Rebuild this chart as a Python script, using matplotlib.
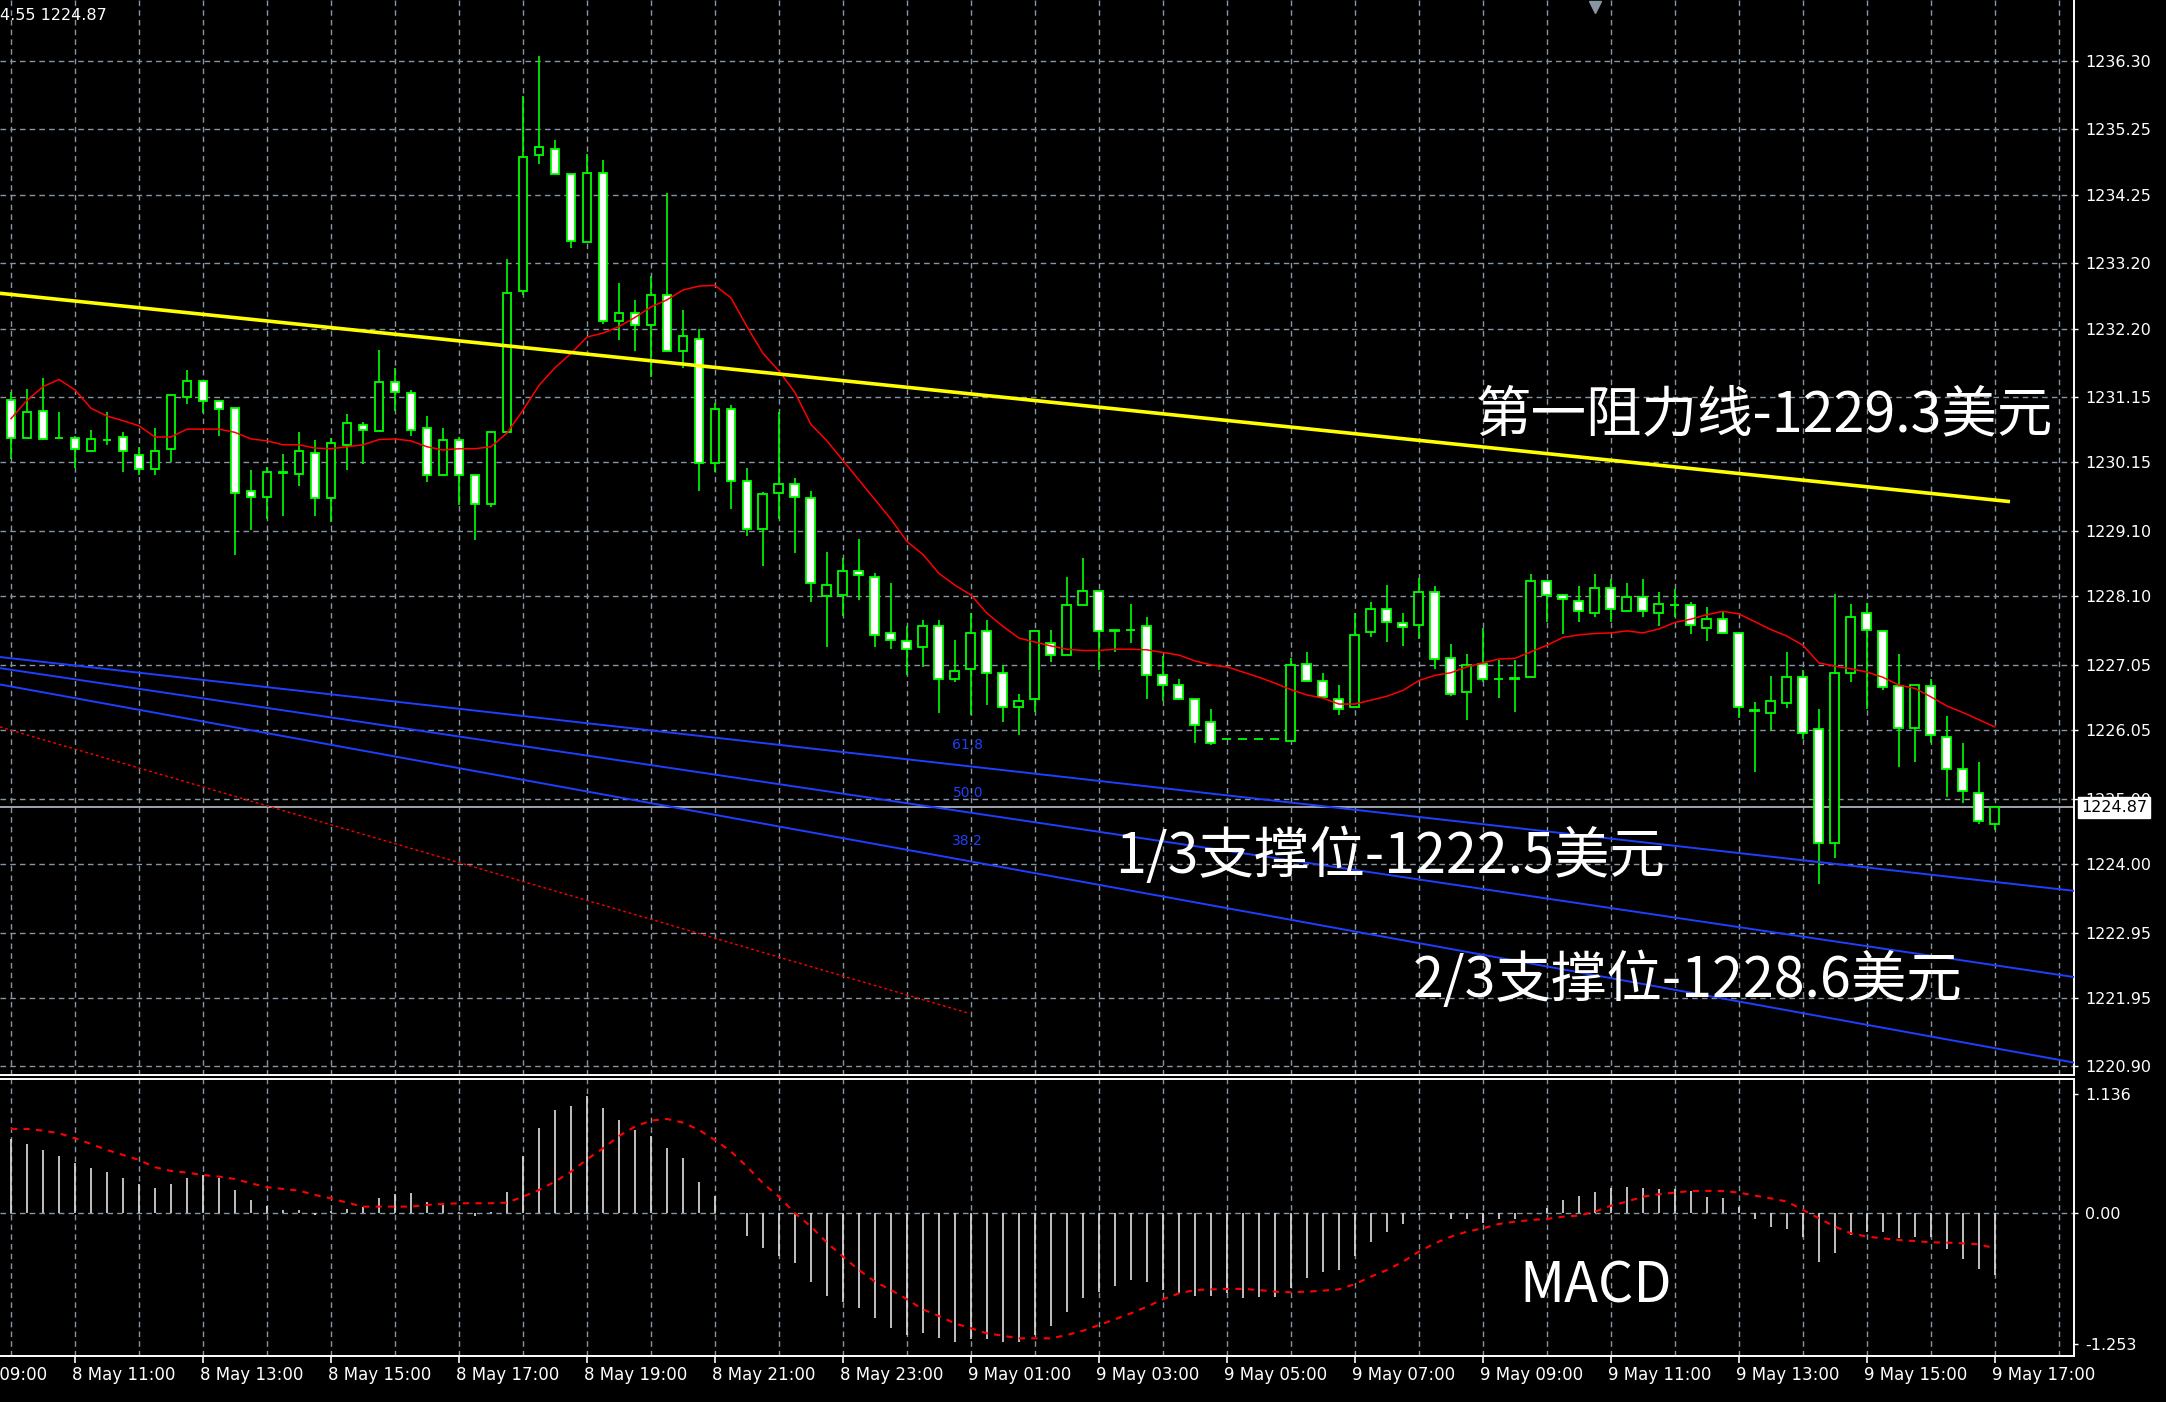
import numpy as np
import matplotlib
matplotlib.use("Agg")
from matplotlib import pyplot as plt
from matplotlib import transforms

# XAUUSD M15, bar 0 = 8 May 10:00, last bar = 9 May 17:00
opens = [1231.10, 1230.53, 1230.94, 1230.53, 1230.53, 1230.32, 1230.50, 1230.54, 1230.26, 1230.05,
         1230.35, 1231.15, 1231.40, 1231.09, 1230.98, 1229.72, 1229.62, 1229.99, 1229.98, 1230.30,
         1229.61, 1230.42, 1230.73, 1230.63, 1231.38, 1231.22, 1230.67, 1229.96, 1230.49, 1229.96,
         1229.52, 1230.61, 1232.77, 1234.86, 1234.95, 1234.56, 1233.53, 1234.58, 1232.31, 1232.44,
         1232.25, 1232.71, 1231.85, 1232.04, 1230.14, 1230.97, 1229.87, 1229.13, 1229.68, 1229.82,
         1229.60, 1228.10, 1228.12, 1228.49, 1228.40, 1227.54, 1227.42, 1227.32, 1227.64, 1226.83,
         1226.99, 1227.57, 1226.93, 1226.40, 1226.52, 1227.38, 1227.20, 1227.97, 1228.18, 1227.58,
         1227.58, 1227.64, 1226.89, 1226.74, 1226.53, 1226.17, 1225.91, 1225.91, 1225.91, 1225.91,
         1225.89, 1227.07, 1226.80, 1226.52, 1226.41, 1227.55, 1227.90, 1227.69, 1227.66, 1228.16,
         1227.15, 1226.64, 1227.06, 1226.84, 1226.84, 1226.87, 1228.34, 1228.12, 1228.03, 1227.84,
         1228.22, 1227.87, 1228.09, 1227.84, 1227.96, 1227.97, 1227.62, 1227.76, 1227.54, 1226.36,
         1226.31, 1226.46, 1226.87, 1226.07, 1224.32, 1226.92, 1227.85, 1227.57, 1226.72, 1226.09,
         1226.72, 1225.95, 1225.46, 1225.09, 1224.62]
highs = [1231.23, 1231.28, 1231.44, 1230.92, 1230.55, 1230.65, 1230.92, 1230.61, 1230.38, 1230.67,
         1231.19, 1231.57, 1231.41, 1231.09, 1230.98, 1230.03, 1230.08, 1230.28, 1230.61, 1230.49,
         1230.52, 1230.89, 1230.77, 1231.87, 1231.60, 1231.26, 1230.86, 1230.67, 1230.54, 1229.96,
         1230.61, 1233.27, 1235.76, 1236.37, 1235.08, 1234.56, 1234.87, 1234.78, 1232.90, 1232.63,
         1233.00, 1234.28, 1232.48, 1232.20, 1231.06, 1231.03, 1230.06, 1229.69, 1230.92, 1229.91,
         1229.72, 1228.78, 1228.68, 1228.98, 1228.45, 1228.31, 1227.64, 1227.74, 1227.74, 1227.43,
         1227.84, 1227.74, 1227.05, 1226.60, 1227.57, 1227.58, 1228.40, 1228.68, 1228.18, 1227.59,
         1227.98, 1227.79, 1227.19, 1226.84, 1226.53, 1226.38, 1225.91, 1225.91, 1225.91, 1225.91,
         1227.15, 1227.24, 1226.93, 1226.74, 1227.84, 1228.01, 1228.28, 1227.85, 1228.38, 1228.26,
         1227.37, 1227.22, 1227.61, 1227.13, 1227.13, 1228.44, 1228.34, 1228.13, 1228.26, 1228.44,
         1228.37, 1228.31, 1228.37, 1228.16, 1228.21, 1228.02, 1227.94, 1227.86, 1227.55, 1226.48,
         1226.88, 1227.24, 1226.97, 1226.38, 1228.13, 1227.98, 1227.99, 1227.57, 1227.21, 1226.74,
         1226.84, 1226.27, 1225.86, 1225.56, 1224.88]
lows = [1230.20, 1230.53, 1230.49, 1230.52, 1230.06, 1230.32, 1230.41, 1230.01, 1229.96, 1229.96,
        1230.16, 1231.05, 1230.90, 1230.56, 1228.73, 1229.12, 1229.28, 1229.33, 1229.79, 1229.33,
        1229.24, 1230.03, 1230.13, 1230.63, 1230.93, 1230.56, 1229.85, 1229.96, 1229.50, 1228.96,
        1229.47, 1230.61, 1232.71, 1234.72, 1234.56, 1233.44, 1233.53, 1232.27, 1232.03, 1231.85,
        1231.46, 1231.85, 1231.59, 1229.71, 1230.01, 1229.43, 1229.03, 1228.56, 1229.28, 1228.76,
        1228.02, 1227.32, 1227.80, 1228.05, 1227.32, 1227.29, 1226.89, 1227.01, 1226.31, 1226.79,
        1226.28, 1226.43, 1226.18, 1225.98, 1226.33, 1227.10, 1227.20, 1227.97, 1226.97, 1227.25,
        1227.38, 1226.52, 1226.49, 1226.52, 1225.85, 1225.82, 1225.91, 1225.91, 1225.91, 1225.91,
        1225.89, 1226.81, 1226.56, 1226.28, 1226.41, 1227.47, 1227.40, 1227.34, 1227.44, 1226.98,
        1226.58, 1226.21, 1226.79, 1226.55, 1226.33, 1226.87, 1227.71, 1227.53, 1227.71, 1227.78,
        1227.71, 1227.87, 1227.78, 1227.65, 1227.78, 1227.53, 1227.41, 1227.54, 1226.23, 1225.41,
        1226.05, 1226.39, 1225.91, 1223.70, 1224.10, 1226.79, 1226.38, 1226.66, 1225.48, 1225.57,
        1225.85, 1225.02, 1224.93, 1224.62, 1224.52]
closes = [1230.53, 1230.92, 1230.51, 1230.52, 1230.35, 1230.51, 1230.50, 1230.32, 1230.05, 1230.33,
          1231.19, 1231.40, 1231.09, 1230.97, 1229.68, 1229.62, 1230.00, 1230.01, 1230.33, 1229.61,
          1230.45, 1230.76, 1230.64, 1231.38, 1231.23, 1230.64, 1229.95, 1230.49, 1229.95, 1229.52,
          1230.61, 1232.74, 1234.83, 1234.98, 1234.56, 1233.54, 1234.58, 1232.31, 1232.44, 1232.26,
          1232.71, 1231.85, 1232.08, 1230.14, 1230.97, 1229.86, 1229.13, 1229.66, 1229.82, 1229.62,
          1228.31, 1228.27, 1228.49, 1228.43, 1227.51, 1227.43, 1227.30, 1227.64, 1226.83, 1226.96,
          1227.54, 1226.92, 1226.41, 1226.50, 1227.57, 1227.20, 1227.97, 1228.18, 1227.57, 1227.57,
          1227.59, 1226.89, 1226.74, 1226.52, 1226.13, 1225.86, 1225.91, 1225.91, 1225.91, 1225.91,
          1227.05, 1226.81, 1226.56, 1226.38, 1227.51, 1227.90, 1227.70, 1227.63, 1228.16, 1227.14,
          1226.61, 1227.05, 1226.83, 1226.84, 1226.85, 1228.34, 1228.12, 1228.06, 1227.87, 1228.22,
          1227.90, 1228.09, 1227.87, 1227.98, 1227.96, 1227.66, 1227.75, 1227.54, 1226.41, 1226.35,
          1226.50, 1226.87, 1226.01, 1224.32, 1226.93, 1227.79, 1227.59, 1226.71, 1226.09, 1226.74,
          1225.98, 1225.45, 1225.12, 1224.66, 1224.87]

# red moving average
ma_line = [1230.82, 1231.10, 1231.31, 1231.42, 1231.26, 1230.98, 1230.86, 1230.79, 1230.71, 1230.54,
           1230.54, 1230.66, 1230.66, 1230.66, 1230.61, 1230.51, 1230.48, 1230.42, 1230.42, 1230.37,
           1230.36, 1230.39, 1230.42, 1230.50, 1230.51, 1230.48, 1230.39, 1230.34, 1230.36, 1230.36,
           1230.39, 1230.60, 1230.95, 1231.33, 1231.60, 1231.82, 1232.07, 1232.13, 1232.23, 1232.37,
           1232.53, 1232.64, 1232.79, 1232.85, 1232.86, 1232.67, 1232.23, 1231.82, 1231.55, 1231.22,
           1230.73, 1230.48, 1230.18, 1229.88, 1229.58, 1229.28, 1228.94, 1228.74, 1228.45, 1228.27,
           1228.12, 1227.84, 1227.64, 1227.46, 1227.40, 1227.34, 1227.29, 1227.27, 1227.27, 1227.29,
           1227.29, 1227.28, 1227.24, 1227.20, 1227.11, 1227.05, 1227.02, 1226.94, 1226.86, 1226.77,
           1226.67, 1226.59, 1226.54, 1226.45, 1226.45, 1226.51, 1226.57, 1226.66, 1226.81, 1226.89,
           1226.93, 1227.02, 1227.08, 1227.14, 1227.15, 1227.25, 1227.35, 1227.47, 1227.51, 1227.53,
           1227.54, 1227.57, 1227.54, 1227.60, 1227.70, 1227.75, 1227.82, 1227.87, 1227.83, 1227.71,
           1227.59, 1227.49, 1227.35, 1227.08, 1227.03, 1226.99, 1226.94, 1226.86, 1226.74, 1226.69,
           1226.56, 1226.42, 1226.32, 1226.21, 1226.10]

# MACD histogram and signal line
macd_main = [0.711, 0.663, 0.605, 0.548, 0.484, 0.437, 0.395, 0.341, 0.280, 0.242,
             0.280, 0.341, 0.366, 0.341, 0.223, 0.127, 0.070, 0.032, 0.032, -0.016,
             0.025, 0.038, 0.064, 0.150, 0.185, 0.191, 0.105, 0.096, 0.016, -0.025,
             0.016, 0.207, 0.551, 0.813, 0.988, 1.026, 1.122, 1.004, 0.892, 0.797,
             0.739, 0.621, 0.532, 0.300, 0.169, 0.006, -0.214, -0.328, -0.405, -0.478,
             -0.653, -0.787, -0.851, -0.905, -0.997, -1.093, -1.163, -1.147, -1.189, -1.227,
             -1.205, -1.205, -1.227, -1.227, -1.163, -1.074, -0.946, -0.813, -0.749, -0.692,
             -0.637, -0.660, -0.733, -0.765, -0.787, -0.787, -0.765, -0.813, -0.803, -0.803,
             -0.711, -0.621, -0.558, -0.542, -0.408, -0.271, -0.175, -0.102, -0.016, -0.005,
             -0.057, -0.057, -0.096, -0.057, -0.057, 0.006, 0.048, 0.127, 0.166, 0.207,
             0.239, 0.249, 0.239, 0.229, 0.229, 0.217, 0.159, 0.143, 0.064, -0.057,
             -0.127, -0.153, -0.223, -0.462, -0.382, -0.207, -0.175, -0.175, -0.239, -0.223,
             -0.223, -0.344, -0.440, -0.535, -0.590]
macd_signal = [0.806, 0.806, 0.790, 0.765, 0.717, 0.663, 0.605, 0.558, 0.510, 0.440,
               0.405, 0.389, 0.366, 0.351, 0.328, 0.287, 0.249, 0.233, 0.217, 0.175,
               0.143, 0.102, 0.064, 0.064, 0.064, 0.064, 0.080, 0.089, 0.096, 0.096,
               0.096, 0.102, 0.159, 0.223, 0.303, 0.398, 0.516, 0.621, 0.739, 0.829,
               0.886, 0.902, 0.867, 0.797, 0.701, 0.590, 0.446, 0.287, 0.159, 0.000,
               -0.127, -0.280, -0.414, -0.542, -0.653, -0.733, -0.822, -0.918, -0.982, -1.052,
               -1.099, -1.147, -1.170, -1.195, -1.195, -1.195, -1.163, -1.122, -1.068, -1.013,
               -0.956, -0.892, -0.822, -0.765, -0.733, -0.727, -0.723, -0.723, -0.733, -0.749,
               -0.755, -0.749, -0.739, -0.727, -0.676, -0.605, -0.542, -0.462, -0.366, -0.287,
               -0.223, -0.175, -0.143, -0.102, -0.080, -0.064, -0.054, -0.032, -0.022, 0.016,
               0.073, 0.112, 0.159, 0.182, 0.198, 0.214, 0.214, 0.214, 0.198, 0.169,
               0.143, 0.112, 0.032, -0.048, -0.127, -0.191, -0.223, -0.239, -0.255, -0.265,
               -0.277, -0.280, -0.287, -0.296, -0.335]

# axis labels
price_ticks = [1236.30, 1235.25, 1234.25, 1233.20, 1232.20, 1231.15, 1230.15, 1229.10,
               1228.10, 1227.05, 1226.05, 1225.00, 1224.00, 1222.95, 1221.95, 1220.90]
macd_ticks = [1.136, 0.0, -1.253]
macd_tick_labels = ["1.136", "0.00", "-1.253"]
time_tick_bars = [-4, 4, 12, 20, 28, 36, 44, 52, 60, 68, 76, 84, 92, 100, 108, 116, 124]
time_labels = ["8 May 09:00", "8 May 11:00", "8 May 13:00", "8 May 15:00", "8 May 17:00",
               "8 May 19:00", "8 May 21:00", "8 May 23:00", "9 May 01:00", "9 May 03:00",
               "9 May 05:00", "9 May 07:00", "9 May 09:00", "9 May 11:00", "9 May 13:00",
               "9 May 15:00", "9 May 17:00"]
last_price = 1224.87

# hand drawn objects: (bar index start, end), (price start, end)
resist_x, resist_y = [-0.69, 124.94], [1232.74, 1229.55]
fib_x = [-0.69, 128.94]
fib_y = [[1227.17, 1223.59], [1227.00, 1222.27], [1226.75, 1220.96]]
fib_names = ["61.8", "50.0", "38.2"]
fib_label_y = [1225.82, 1225.09, 1224.35]
dot_x, dot_y = [-0.69, 59.8], [1226.10, 1221.72]

GREEN = "#00ff00"
GRID = "#8896a4"
CJK = ["Noto Sans CJK SC", "DejaVu Sans"]

n = len(closes)
idx = np.arange(n)
o = np.array(opens)
c = np.array(closes)

fig = plt.figure(figsize=(21.66, 14.02), dpi=100, facecolor="black")
ax = fig.add_axes([0, 0.2332, 0.9575, 0.7668], facecolor="black")
axm = fig.add_axes([0, 0.0328, 0.9575, 0.1976], facecolor="black")

xlim = (-0.6875, 128.9375)

# ---- main price panel ----
ax.set_xlim(*xlim)
ax.set_ylim(1220.769, 1237.231)
for p in price_ticks:
    ax.axhline(p, color=GRID, lw=1.0, ls=(0, (4, 3)), zorder=1)
for b in range(0, 129, 4):
    ax.axvline(b, color=GRID, lw=1.0, ls=(0, (4, 3)), zorder=1)
    axm.axvline(b, color=GRID, lw=1.0, ls=(0, (4, 3)), zorder=1)

ax.axhline(last_price, color="#a9b1b9", lw=1.3, zorder=2)

# candles: black body = up, white body = down
ax.vlines(idx, lows, highs, color=GREEN, lw=1.2, zorder=3)
bottoms = np.minimum(o, c)
heights = np.abs(c - o)
faces = ["black" if c[i] > o[i] else "white" for i in range(n)]
ax.bar(idx, heights, bottom=bottoms, width=0.56, color=faces, edgecolor=GREEN,
       linewidth=1.3, zorder=4)

ax.plot(idx, ma_line, color="#ff0000", lw=1.1, zorder=5)
ax.plot(resist_x, resist_y, color="#ffff00", lw=2.6, zorder=6, solid_capstyle="butt")
for fy in fib_y:
    ax.plot(fib_x, fy, color="#1f3fff", lw=1.4, zorder=5)
for name, fy in zip(fib_names, fib_label_y):
    ax.text(59.8, fy, name, color="#1f3fff", fontsize=10, ha="center", va="center", zorder=6)
ax.plot(dot_x, dot_y, color="#ff0000", lw=1.0, ls=(0, (2, 2)), zorder=5)

# little marker at the top
ax.plot([99.0], [1237.12], marker="v", color=GRID, markersize=9, clip_on=False, zorder=7)

ax.yaxis.tick_right()
ax.set_yticks(price_ticks)
ax.set_yticklabels(["%.2f" % p for p in price_ticks])
ax.tick_params(axis="y", colors="white", labelcolor="white", labelsize=11.5, length=3,
               width=1, pad=5)
ax.tick_params(axis="x", length=0, labelbottom=False)
for s in ["left", "top"]:
    ax.spines[s].set_visible(False)
for s in ["right", "bottom"]:
    ax.spines[s].set_color("white")
    ax.spines[s].set_linewidth(1.4)

trans = transforms.blended_transform_factory(ax.transAxes, ax.transData)
ax.text(1.0034, last_price, "%.2f" % last_price, transform=trans, color="black", fontsize=11.5,
        ha="left", va="center", zorder=10, clip_on=False,
        bbox=dict(boxstyle="square,pad=0.2", fc="white", ec="white"))

ax.text(91.56, 1230.87, "第一阻力线-1229.3美元", family=CJK, fontsize=40, color="white",
        ha="left", va="center", zorder=8)
ax.text(69.0, 1224.10, "1/3支撑位-1222.5美元", family=CJK, fontsize=40, color="white",
        ha="left", va="center", zorder=8)
ax.text(87.6, 1222.21, "2/3支撑位-1228.6美元", family=CJK, fontsize=40, color="white",
        ha="left", va="center", zorder=8)

fig.text(0.0, 1 - 15 / 1402, "4.55 1224.87", color="white", fontsize=11.5, ha="left",
         va="center")

# ---- MACD panel ----
axm.set_xlim(*xlim)
axm.set_ylim(-1.364, 1.284)
axm.axhline(0, color=GRID, lw=1.0, ls=(0, (4, 3)), zorder=1)
axm.vlines(idx, 0, macd_main, color="#e0e0e0", lw=1.2, zorder=3)
axm.plot(idx, macd_signal, color="#ff0000", lw=1.5, ls=(0, (3, 3)), zorder=4)
axm.text(94.3, -0.70, "MACD", family=CJK, fontsize=40, color="white", ha="left",
         va="center", zorder=8)

axm.yaxis.tick_right()
axm.set_yticks(macd_ticks)
axm.set_yticklabels(macd_tick_labels)
axm.tick_params(axis="y", colors="white", labelcolor="white", labelsize=11.5, length=3,
                width=1, pad=5)
axm.set_xticks([b for b in time_tick_bars if b >= 0])
axm.tick_params(axis="x", colors="white", length=5, width=1.2, labelbottom=False)
axm.spines["left"].set_visible(False)
for s in ["right", "top", "bottom"]:
    axm.spines[s].set_color("white")
    axm.spines[s].set_linewidth(1.4)

ttrans = transforms.blended_transform_factory(axm.transData, axm.transAxes)
for b, lab in zip(time_tick_bars, time_labels):
    axm.text(b - 0.2, -0.035, lab, transform=ttrans, color="white", fontsize=12,
             ha="left", va="top", clip_on=False)

fig.savefig("out.png", dpi=100, facecolor="black")
